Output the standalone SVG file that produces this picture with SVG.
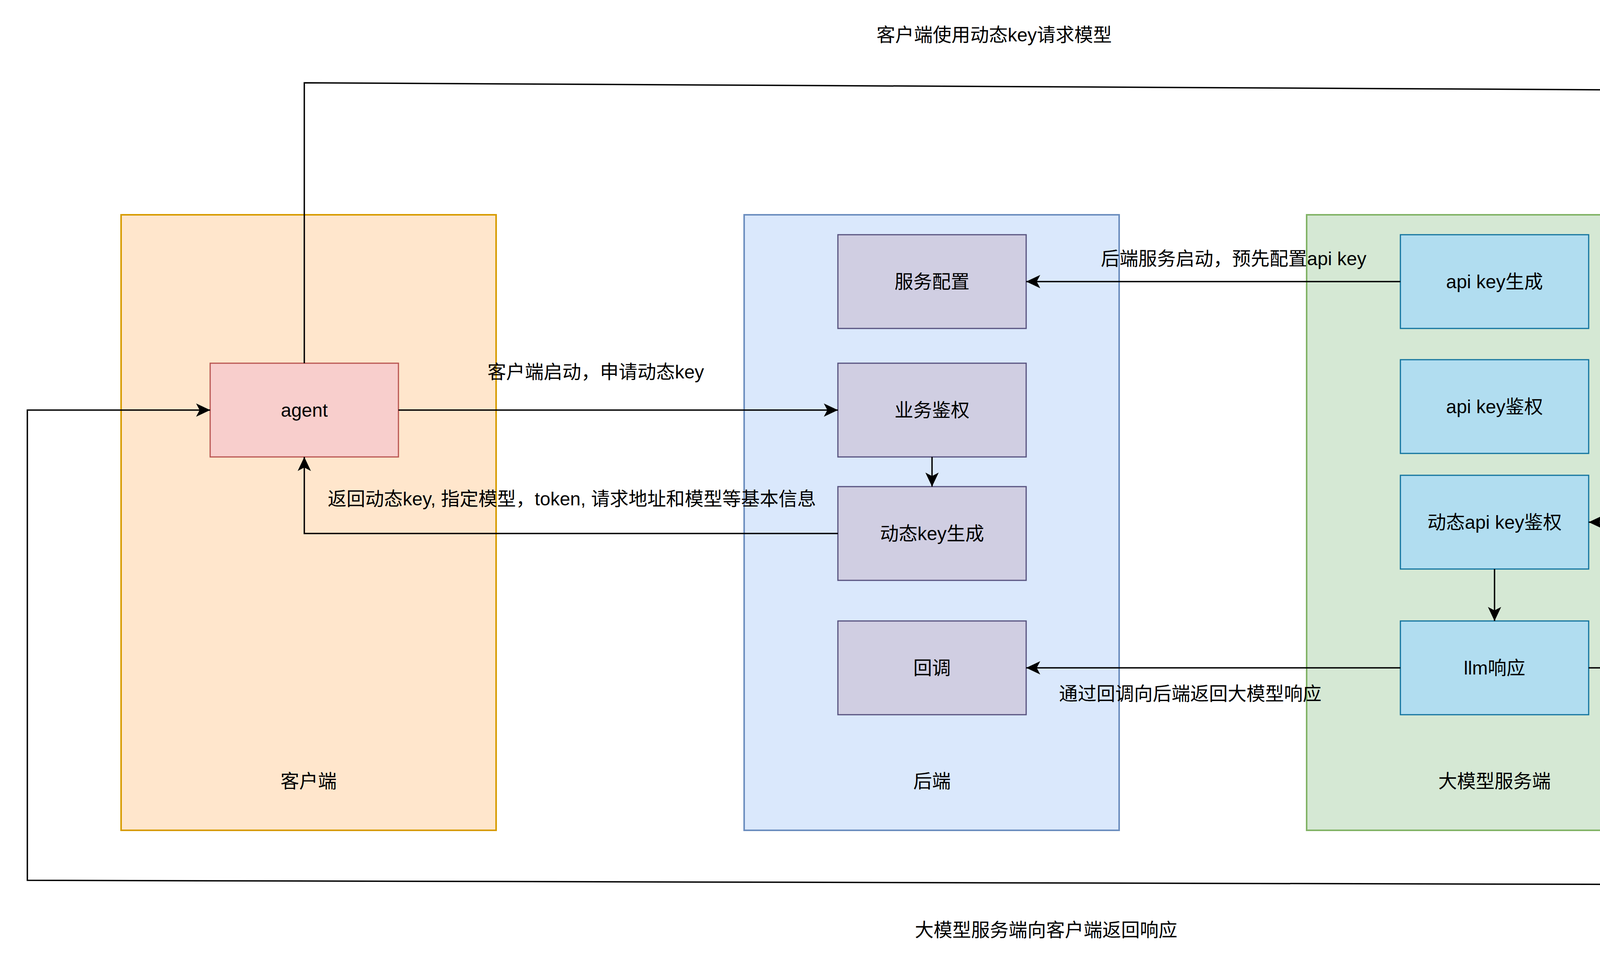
<svg xmlns="http://www.w3.org/2000/svg" width="4776" height="2476" viewBox="0 0 4776 2476">
<style>
text{font-family:"Liberation Sans","Noto Sans CJK SC",sans-serif;font-size:48px;fill:#000;text-anchor:middle;dominant-baseline:central}
.cont{stroke-width:4}
.node{stroke-width:3}
.c-client{fill:#ffe6cc;stroke:#d79b00}
.c-back{fill:#dae8fc;stroke:#6c8ebf}
.c-llm{fill:#d5e8d4;stroke:#82b366}
.n-agent{fill:#f8cecc;stroke:#b85450}
.n-back{fill:#d0cee2;stroke:#56517e}
.n-llm{fill:#b1ddf0;stroke:#10739e}
.edge{fill:none;stroke:#000;stroke-width:3.5}
.arr{marker-end:url(#arrow)}
</style>
<defs>
<marker id="arrow" markerUnits="userSpaceOnUse" markerWidth="40" markerHeight="40" viewBox="0 -20 40 40" refX="36" refY="0" orient="auto">
<path d="M0,-17 L36,0 L0,17 L9,0 Z" fill="#000"/>
</marker>
</defs>
<rect width="4776" height="2476" fill="#fff"/>
<g id="container-client">
<rect class="cont c-client" x="310" y="550" width="960" height="1576"/>
<text x="790" y="2000">客户端</text>
</g>
<g id="container-backend">
<rect class="cont c-back" x="1905" y="550" width="960" height="1576"/>
<text x="2386" y="2000">后端</text>
</g>
<g id="container-llm">
<rect class="cont c-llm" x="3345" y="550" width="960" height="1576"/>
<text x="3826" y="2000">大模型服务端</text>
</g>
<g id="node-agent">
<rect class="node n-agent" x="538" y="930" width="482" height="240"/>
<text x="779" y="1050">agent</text>
</g>
<g id="node-service-config">
<rect class="node n-back" x="2145" y="601" width="482" height="240"/>
<text x="2386" y="721">服务配置</text>
</g>
<g id="node-business-auth">
<rect class="node n-back" x="2145" y="930" width="482" height="240"/>
<text x="2386" y="1050">业务鉴权</text>
</g>
<g id="node-dynamic-key-gen">
<rect class="node n-back" x="2145" y="1246" width="482" height="240"/>
<text x="2386" y="1366">动态key生成</text>
</g>
<g id="node-callback">
<rect class="node n-back" x="2145" y="1590" width="482" height="240"/>
<text x="2386" y="1710">回调</text>
</g>
<g id="node-apikey-gen">
<rect class="node n-llm" x="3585" y="601" width="482" height="240"/>
<text x="3826" y="721">api key生成</text>
</g>
<g id="node-apikey-auth">
<rect class="node n-llm" x="3585" y="921" width="482" height="240"/>
<text x="3826" y="1041">api key鉴权</text>
</g>
<g id="node-dynamic-apikey-auth">
<rect class="node n-llm" x="3585" y="1217" width="482" height="240"/>
<text x="3826" y="1337">动态api key鉴权</text>
</g>
<g id="node-llm-response">
<rect class="node n-llm" x="3585" y="1590" width="482" height="240"/>
<text x="3826" y="1710">llm响应</text>
</g>
<g id="connectors">
<path class="edge arr" d="M1020,1050 L2145,1050"/>
<path class="edge arr" d="M2386,1170 L2386,1246"/>
<path class="edge arr" d="M2145,1366 L779,1366 L779,1170"/>
<path class="edge arr" d="M3585,721 L2627,721"/>
<path class="edge arr" d="M3585,1710 L2627,1710"/>
<path class="edge arr" d="M3826,1457 L3826,1590"/>
<path class="edge arr" d="M779,930 L779,212 L4678,233 L4678,1337 L4067,1337"/>
<path class="edge arr" d="M4067,1710 L4691,1710 L4702,2266 L70,2254 L70,1050 L538,1050"/>
</g>
<g id="labels">
<text x="1525" y="952">客户端启动，申请动态key</text>
<text x="1464" y="1277">返回动态key, 指定模型，token, 请求地址和模型等基本信息</text>
<text x="3158" y="662">后端服务启动，预先配置api key</text>
<text x="3047" y="1776">通过回调向后端返回大模型响应</text>
<text x="2545" y="89">客户端使用动态key请求模型</text>
<text x="2678" y="2381">大模型服务端向客户端返回响应</text>
</g>
</svg>
